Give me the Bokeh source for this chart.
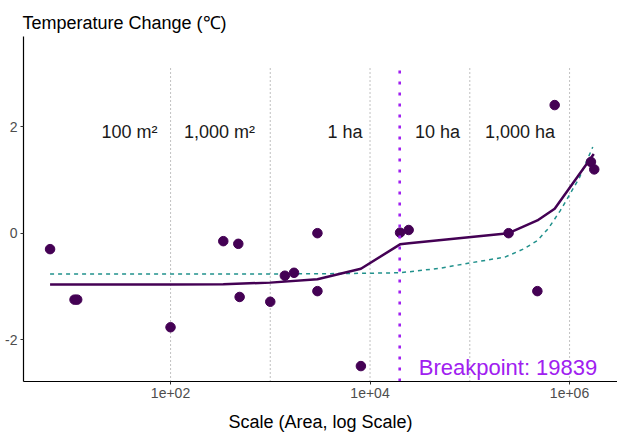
from bokeh.plotting import figure
from bokeh.models import Range1d, FixedTicker
from bokeh.core.properties import value
from bokeh.embed import file_html
from bokeh.resources import INLINE

FONT = "Liberation Sans"

# observed points: area (m^2) vs temperature change (degC)
area = [6.2, 10.9, 11.6, 100, 338, 478, 493, 1000, 1400, 1730, 2970, 2970,
        8100, 20000, 24400, 245000, 476000, 710000, 1640000, 1770000]
temp = [-0.30, -1.25, -1.25, -1.77, -0.15, -0.20, -1.20, -1.29, -0.80, -0.745,
        0.0, -1.09, -2.50, 0.01, 0.06, 0.0, -1.09, 2.41, 1.34, 1.20]

# segmented fit (solid)
fit_area = [6.2, 100, 338, 1000, 2970, 8100, 20000, 24600, 245000, 476000, 710000, 1750000]
fit_temp = [-0.965, -0.965, -0.96, -0.93, -0.865, -0.67, -0.21, -0.19, 0.0, 0.24, 0.46, 1.49]

# linear fit (dashed)
lin_area = [6.2, 100, 1000, 5000, 20000, 50000, 100000, 225000, 344000, 476000,
            614000, 805000, 1000000, 1260000, 1710000]
lin_temp = [-0.77, -0.77, -0.767, -0.76, -0.745, -0.66, -0.56, -0.45, -0.30, -0.14,
            0.09, 0.42, 0.72, 1.05, 1.62]

breakpoint = 19839

scale_lines = [100, 1000, 10000, 100000, 1000000]
scale_labels = ["100 m²", "1,000 m²", "1 ha", "10 ha", "1,000 ha"]
scale_label_x = [38.7, 310, 5600, 47400, 319000]
scale_label_y = 1.9

x_ticks = [100, 10000, 1000000]
x_tick_labels = ["1e+02", "1e+04", "1e+06"]
y_ticks = [-2, 0, 2]
y_tick_labels = ["-2", "0", "2"]

Y_MIN, Y_MAX = -2.79, 3.70
VLINE_TOP = 3.13

p = figure(width=617, height=434, x_axis_type="log",
           x_range=Range1d(10 ** 0.526, 10 ** 6.481),
           y_range=Range1d(Y_MIN, Y_MAX),
           output_backend="svg", toolbar_location=None,
           min_border_left=23, min_border_right=0,
           min_border_top=36, min_border_bottom=53)

p.title.text = "Temperature Change (℃)"
p.title.text_font = FONT
p.title.text_font_size = "18px"
p.title.text_font_style = "normal"
p.title.text_color = "black"
p.title.align = "left"
p.title.offset = -1
p.title.standoff = 8

p.grid.visible = False
p.outline_line_color = None
p.background_fill_color = "white"
p.border_fill_color = "white"

# scale reference lines
p.segment(x0=scale_lines, y0=[Y_MIN] * len(scale_lines), x1=scale_lines,
          y1=[VLINE_TOP] * len(scale_lines),
          line_color="#8c8c8c", line_width=1.1, line_dash="1 3")

p.text(x=scale_label_x, y=[scale_label_y] * len(scale_labels), text=scale_labels,
       text_align="center", text_baseline="middle",
       text_font=value(FONT), text_font_size=value("18px"), text_color="#1a1a1a")

# fits
p.line(lin_area, lin_temp, line_color="#21918C", line_width=1.5, line_dash="4 4")
p.line(fit_area, fit_temp, line_color="#440154", line_width=2.5)

# points
p.scatter(area, temp, size=9.5, fill_color="#440154", line_color="#440154")

# breakpoint
p.segment(x0=[breakpoint], y0=[Y_MIN], x1=[breakpoint], y1=[VLINE_TOP],
          line_color="#A020F0", line_width=2.6, line_dash="3 8")
p.text(x=[breakpoint], y=[-2.52], text=[f"Breakpoint: {breakpoint}"],
       x_offset=19, text_align="left", text_baseline="middle",
       text_font=value(FONT), text_font_size=value("22px"), text_color="#A020F0")

# axes
for ax in (p.xaxis[0], p.yaxis[0]):
    ax.axis_line_color = "black"
    ax.axis_line_width = 1.2
    ax.major_tick_line_color = "#333333"
    ax.major_tick_out = 3
    ax.major_tick_in = 0
    ax.minor_tick_line_color = None
    ax.major_label_text_font = FONT
    ax.major_label_text_font_size = "14px"
    ax.major_label_text_color = "#4d4d4d"
    ax.major_label_standoff = 3

p.xaxis.ticker = FixedTicker(ticks=x_ticks, minor_ticks=[])
p.xaxis.major_label_overrides = dict(zip(x_ticks, x_tick_labels))
p.yaxis.ticker = FixedTicker(ticks=y_ticks, minor_ticks=[])
p.yaxis.major_label_overrides = dict(zip(y_ticks, y_tick_labels))

p.xaxis.axis_label = "Scale (Area, log Scale)"
p.xaxis.axis_label_text_font = FONT
p.xaxis.axis_label_text_font_size = "18px"
p.xaxis.axis_label_text_font_style = "normal"
p.xaxis.axis_label_text_color = "black"
p.xaxis.axis_label_standoff = 11

open("out.html", "w").write(file_html(p, INLINE))
